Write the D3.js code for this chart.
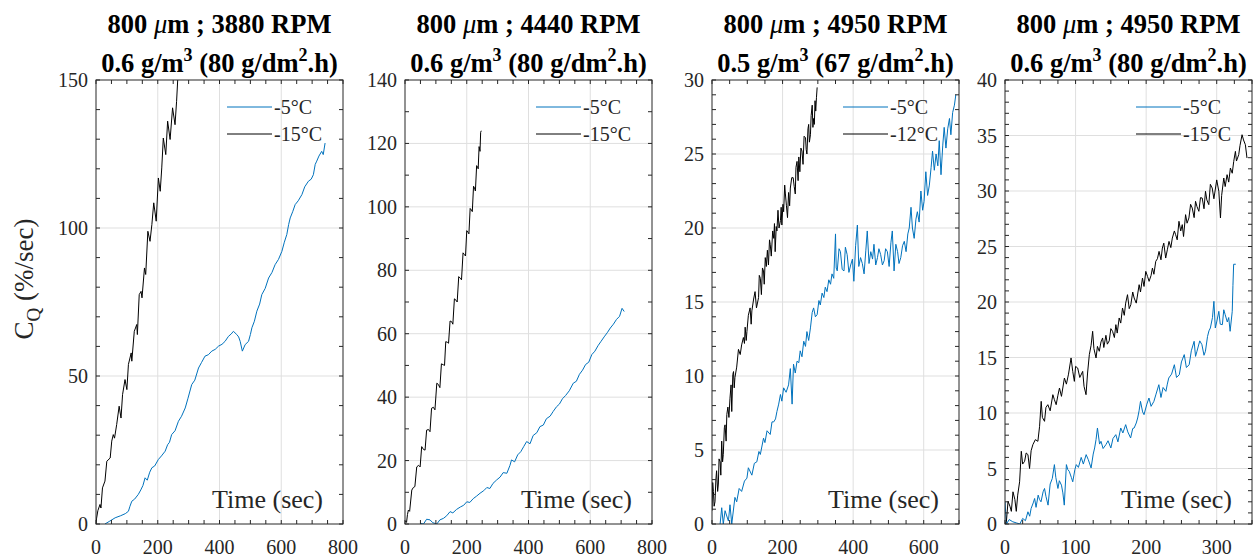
<!DOCTYPE html>
<html>
<head>
<meta charset="utf-8">
<script src="https://cdn.jsdelivr.net/npm/d3@7"></script>
<style>
  body { margin: 0; background: #fff; }
</style>
</head>
<body>
<script>
// panel titles
const rpm = ["3880", "4440", "4950", "4950"];
const conc = ["0.6", "0.6", "0.5", "0.6"];
const flux = ["80", "80", "67", "80"];
const coldLabels = ["-15°C", "-15°C", "-12°C", "-15°C"];

// axis extents and ticks
const xMax = [800, 800, 700, 350];
const yMax = [150, 140, 30, 40];
const xStep = [200, 200, 200, 100];
const yStep = [50, 20, 5, 5];
const xMinorStep = [50, 50, 50, 25];
const yMinorStep = [10, 10, 1, 1];

// series: [time (sec), CQ (%/sec)]
const p1Warm = [[29,0],[45,1],[62,2.1],[80,2.8],[95,3.5],[105,4.3],[110,6],[116,7.7],[125,8.4],[137,10],[145,11.5],[152,13],[159,15.6],[166,14.8],[174,17.5],[181,19],[190,19.6],[202,21.8],[212,23],[224,24.6],[232,26.8],[238,27.6],[245,30.2],[256,31.5],[267,34.7],[277,36.4],[289,39.2],[298,42.5],[310,47.1],[320,48.6],[332,52.7],[342,54.6],[353,56.7],[364,57.2],[375,58.4],[386,59],[397,60.1],[408,60.7],[418,61.7],[429,63.4],[438,64.2],[445,65.1],[456,64],[462,63.2],[467,61.7],[474,58.4],[483,60.6],[494,61.7],[500,64],[505,66.3],[513,68.5],[521,71.9],[530,74.3],[537,77.5],[548,79.6],[559,83.1],[570,85],[580,87.6],[591,89.4],[602,92.1],[610,95.2],[618,97.8],[624,101.2],[629,103.4],[637,105.5],[645,107.9],[655,109.2],[667,111.3],[676,113.9],[688,115.8],[697,116.5],[704,118],[710,121.5],[715,122.6],[722,124.3],[731,125.9],[736,124.8],[742,128.7]];
const p1Cold = [[0,0],[2,2],[6,4.5],[13,6.6],[16,5.4],[21,12.2],[29,14.5],[35,21.2],[46,22.3],[51,28],[56,30.2],[60,29],[67,33.6],[75,39.8],[81,35.8],[86,43.7],[94,48.8],[100,45.4],[105,53.9],[114,57.8],[116,55],[124,65.1],[132,67.4],[134,64],[140,77.5],[146,78.6],[149,76.4],[157,86.5],[161,84.3],[168,98.9],[175,95.5],[181,101.2],[187,108.5],[195,102.3],[202,116.9],[208,112.4],[213,120.3],[218,130.4],[226,124.8],[232,136.1],[240,129.9],[248,140.6],[256,134.9],[261,142.8],[265,150.7],[268,155]];

const p2Warm = [[49,0.2],[60,0],[70,1.5],[81,1.3],[90,0.4],[103,0],[113,1.3],[125,1.8],[135,2.6],[146,3.9],[155,3.5],[167,4.6],[180,5.4],[190,5.9],[200,7],[210,6.8],[221,8],[232,8.8],[243,9.7],[255,10.5],[265,11.5],[275,11.2],[285,12.8],[297,13.9],[308,14.8],[318,16.2],[330,16],[340,18.5],[345,20.2],[355,19.6],[365,21.8],[375,22.8],[385,24.5],[394,26],[405,25.3],[415,27.9],[427,28.8],[437,30.7],[448,31.2],[458,33.2],[470,34],[480,35.5],[491,37],[500,37.8],[510,39.5],[520,40.5],[532,42],[545,44.4],[555,45],[565,47.2],[575,48.5],[585,50.3],[595,51],[605,53.4],[615,54.5],[625,56.2],[635,57.6],[645,59],[655,60.3],[665,61.8],[675,63],[685,64.5],[695,65.5],[703,68],[710,67]];
const p2Cold = [[0,1],[5,0.5],[8,3],[11,4.4],[15,4],[22,10.7],[27,11.5],[32,11.8],[38,18],[44,18.5],[49,18],[54,24.4],[60,23.5],[65,23.3],[70,29.6],[76,29.8],[81,29.1],[86,36.5],[92,36.8],[97,36],[103,44.4],[108,44],[113,43],[118,50.5],[124,50.2],[128,50],[132,57.5],[137,57.3],[141,57],[146,64],[151,63.8],[155,63],[160,71],[165,70.6],[169,70],[174,78],[179,77.5],[183,77],[188,85.5],[192,85],[196,84.5],[200,92.5],[204,92],[207,91.5],[211,99.5],[215,99],[218,98.5],[222,106.5],[225,106],[228,105],[232,113],[235,112.5],[237,112],[240,119],[243,117.5],[245,123.5],[247,124]];

const p3Warm = [[23,0],[27.5,1.1],[32,0],[37,0.9],[46.5,0.2],[51,1.3],[56,0],[65,1.8],[70,1.5],[77,2.4],[84,2.2],[92,2.9],[99,3.1],[103,3.8],[113,3.3],[120,4.1],[127,4.2],[133,4.9],[137,4.7],[146,5.8],[150,5.5],[156,6.3],[165,6.05],[170,6.9],[175,6.9],[180,7.1],[184,7.6],[189,8.1],[194,8.75],[198,8.3],[203,9.2],[210,8.9],[217,9.4],[222,10.5],[227,8.1],[231,10.8],[236,10.2],[241,11],[246,10.9],[250,11.7],[255,11.3],[260,12.35],[265,12],[269,13],[274,12.4],[279,13.25],[284,14.3],[288,14.6],[293,14],[298,14.15],[303,15.1],[307,14.8],[312,15.6],[317,15.3],[321,16],[326,15.7],[331,16.5],[336,16.2],[340,16.9],[345,16.6],[350,19.6],[352,17.3],[355,17.1],[360,18.6],[364,18.4],[369,17.2],[374,17.1],[378,18.7],[383,18.2],[388,17],[393,17.5],[398,17.9],[402,16.4],[407,18.8],[412,20.2],[416,17.4],[421,18],[426,17.6],[431,16.9],[436,18.5],[440,19.8],[445,17.6],[450,18.4],[455,17.9],[459,18.9],[464,17.5],[469,18],[473,18.6],[478,18.2],[483,17.5],[488,17.8],[492,18.6],[497,18.4],[502,17.4],[507,19],[511,19.8],[516,17.1],[521,18.9],[526,18.4],[530,17.6],[535,18],[540,18.8],[545,19.1],[550,18.4],[555,19.6],[559,20],[564,21.4],[568,20],[573,19.3],[578,20.6],[582,21.1],[587,20.4],[592,22.5],[597,21.2],[601,21.8],[606,23.8],[611,22.2],[616,22.9],[621,24.1],[625,25.2],[630,23.9],[635,25],[640,24.2],[644,25.9],[649,23.6],[654,25.6],[658,26.8],[663,25.4],[668,26.7],[673,27.4],[677,26.3],[682,27.8],[687,28.3],[691,29]];
const p3Cold = [[0,0.9],[2,2.8],[4,2.2],[6,1.2],[8.5,1.5],[11,3],[13,3.6],[16,2.2],[18,2.7],[20,4.4],[23,4.2],[25,3.3],[27.5,5.6],[30,4.2],[32,4.7],[35,6.5],[37,6.7],[40,5.6],[42,7.4],[45,7.9],[48,7.2],[51,8.5],[54,9.4],[56,7.6],[59,10.1],[61,10.3],[63,9.2],[65,9.9],[70,10.6],[75,11.8],[80,11.45],[84,12.1],[89,12.6],[92,12.2],[94,13.3],[97,12.4],[99,13],[103,14.1],[108,14.6],[111,13.5],[113,14.4],[118,15.2],[122,15.7],[126,14.6],[132,15.3],[134,16.8],[137,16.6],[140,15.5],[143,17.3],[146,17.1],[148,16.2],[151,18],[154,17.4],[157,18.5],[160,17.5],[163,19.2],[165,18.9],[168,18.1],[172,19.8],[175,19.3],[177,20.3],[179,18.4],[182,20.1],[184,19.8],[187,21.2],[190,20],[194,20.5],[196,21.4],[198,20.2],[201,21.6],[203,21.1],[206,22.9],[208,22.3],[211,21.5],[214,20.7],[217,22.4],[220,21.5],[222,22.7],[226,23.4],[230,23.4],[233,22.8],[236,22.3],[238,24.1],[241,24.5],[244,23.2],[246,24.8],[249,23.8],[252,25.4],[255,25.2],[258,24.3],[261,26.2],[265,26.1],[267,25.3],[269,25],[272,26.7],[274,27],[276,25.8],[279,26.3],[281,27.6],[284,28.3],[286,26.8],[288,27.4],[290,27],[292,28.6],[294,27.9],[296,28.8],[298,29.5]];

const p4Warm = [[0,2],[2,0],[6,0.4],[11,0.2],[16,0.1],[21,0],[25,0.5],[29,0.3],[32.5,1.1],[35,0.7],[37,1.4],[40,1.9],[42,2.3],[44,1.5],[47,2.6],[49,2.2],[51,2],[54,2.9],[56,3.2],[58,2.5],[61,1.7],[64,3.6],[67,4.1],[70,5.35],[72,4.2],[75,3.2],[77,3.9],[80,3.5],[82,2.8],[84,1.7],[87,5.35],[89,4.9],[91,4.75],[94,4.2],[96,3.8],[99,4.9],[101,5.35],[104,5.1],[108,6],[111,5.4],[115,6.25],[118,5.8],[122,5.05],[125,6.3],[127,6.85],[129,7.6],[131,8.65],[134,7.2],[136,7.45],[139,6.8],[143,7.15],[146,7.5],[150,6.85],[153,7.7],[157,8.05],[160,7.4],[164,8.65],[167,8.2],[171,8.95],[174,8.3],[178,7.75],[181,8.6],[183,8.65],[186,9.1],[188,9.55],[190,10.2],[192,11.05],[195,10.1],[197,9.85],[201,10.8],[204,11.35],[207,10.6],[211,11.05],[214,11.7],[218,12.55],[221,11.4],[224,12.3],[228,11.95],[230,12.6],[232,13.15],[236,13.5],[240,14.35],[243,13.2],[247,13.45],[250,14.6],[254,15.26],[257,14.1],[261,14.35],[264,15.6],[268,16.46],[270,15.1],[272,15.56],[276,16.5],[279,16.16],[282,15.2],[284,15.56],[287,16.9],[289,17.4],[291,17.66],[294,18.6],[296,20.06],[298,17.66],[300,18.2],[303,19.16],[305,18],[308,17.96],[310,19.3],[312,18.86],[315,18.2],[317,18.6],[319,17.36],[322,19.16],[323,21.5],[324,23.4],[327,23.4]];
const p4Cold = [[0,0],[2,0.24],[4.3,2.04],[7,1.6],[9,1.14],[11.3,2.9],[14,2.2],[16,1.14],[18,2.6],[20.7,3.8],[23.1,6.55],[25,5.4],[27.8,5.65],[30,6.4],[32.5,6.25],[34.8,5],[37,6.6],[39.5,7.15],[43,7.6],[46.6,7.45],[49,8.8],[51.3,11.05],[53,9.6],[56,9.25],[58,10.5],[60.7,10.75],[64,10.2],[67.8,11.65],[70,11.2],[72.5,10.75],[75,11.6],[77.2,12.25],[80,11.5],[84.2,13.15],[87,12.6],[90,13.5],[93.6,14.96],[96,13.75],[98.3,12.85],[100,14.2],[103,14.05],[106,13.2],[110.1,13.75],[112,12.4],[114.8,11.65],[117,13.6],[119.5,15.26],[122,16.1],[124.2,17.36],[126,15.8],[129,14.96],[131,16],[133.6,15.56],[136,16.4],[138.3,16.76],[140,15.9],[143,17],[145,16.2],[147.7,16.5],[150,17.6],[152.4,17.36],[155,16.8],[157.1,17.96],[159,17.2],[161.8,18.56],[164,18.1],[166.5,19.46],[169,18.8],[171,19.9],[173.6,20.66],[176,19.4],[178.3,19.76],[181,20.9],[183,20.36],[186,19.9],[190.1,21.56],[192,20.9],[194.8,22.16],[197,21.4],[199.5,22.76],[202,22.3],[204.2,21.86],[207,22.4],[208.9,23.06],[211,22.5],[213.6,23.66],[216,23.9],[218.3,24.56],[221,23.8],[223,24.86],[225,25.3],[227.7,23.96],[230,24.7],[232.4,25.46],[235,24.9],[237.1,25.76],[240,26.4],[241.8,26.06],[244,25.6],[246.5,27.27],[249,26.4],[251.2,26.97],[253,25.9],[255.9,27.87],[258,27.1],[260.6,27.57],[263,28.8],[265.3,28.47],[268,27.6],[270,29.07],[272,28.6],[274.7,28.17],[277,29.4],[279.4,29.37],[282,28.4],[284.1,29.97],[286,29.2],[288.8,28.77],[291,30.6],[293.6,30.27],[296,29.3],[298.3,30.27],[300,31],[303,29.97],[305.3,27.57],[307,29.6],[310,31.17],[312,30.4],[314.7,31.47],[317,30.8],[319.4,32.07],[322,31.6],[324.1,32.67],[326.5,33.57],[328,32.7],[331.2,33.27],[333,34.1],[335.9,35.07],[338,34.6],[340.6,34.17],[342.9,32.97]];

const warmSeries = [p1Warm, p2Warm, p3Warm, p4Warm];
const coldSeries = [p1Cold, p2Cold, p3Cold, p4Cold];

const W = 1255;
const H = 558;
const panelLeft = [96, 405, 712, 1005];
const panelW = 247;
const plotTop = 80;
const plotBottom = 524;

const blue = "#0072bd";
const axisColor = "#262626";
const gridColor = "#dfdfdf";
const serif = "'Liberation Serif', 'Times New Roman', Times, serif";

const svg = d3.select("body").append("svg")
  .attr("width", W)
  .attr("height", H)
  .attr("font-family", serif)
  .style("font-family", serif);
svg.append("rect").attr("width", W).attr("height", H).attr("fill", "#fff");

function range(start, stop, step) {
  return d3.range(0, Math.floor((stop - start) / step + 1e-9) + 1).map(function (i) {
    return +(start + i * step).toFixed(4);
  });
}

for (let p = 0; p < 4; p++) {
  const left = panelLeft[p];
  const right = left + panelW;
  const xScale = d3.scaleLinear().domain([0, xMax[p]]).range([left, right]);
  const yScale = d3.scaleLinear().domain([0, yMax[p]]).range([plotBottom, plotTop]);
  const g = svg.append("g");

  const xMajor = range(0, xMax[p], xStep[p]);
  const yMajor = range(0, yMax[p], yStep[p]);
  const xMinor = range(0, xMax[p], xMinorStep[p]);
  const yMinor = range(0, yMax[p], yMinorStep[p]);

  // grid
  g.selectAll(".gx")
    .data(xMajor.filter(function (d) { return d > 0 && d < xMax[p]; }))
    .enter()
    .append("line")
    .attr("x1", function (d) { return xScale(d); })
    .attr("x2", function (d) { return xScale(d); })
    .attr("y1", plotTop)
    .attr("y2", plotBottom)
    .attr("stroke", gridColor)
    .attr("stroke-width", 1);
  g.selectAll(".gy")
    .data(yMajor.filter(function (d) { return d > 0 && d < yMax[p]; }))
    .enter()
    .append("line")
    .attr("y1", function (d) { return yScale(d); })
    .attr("y2", function (d) { return yScale(d); })
    .attr("x1", left)
    .attr("x2", right)
    .attr("stroke", gridColor)
    .attr("stroke-width", 1);

  // data
  const clipId = "clip" + p;
  svg.append("clipPath")
    .attr("id", clipId)
    .append("rect")
    .attr("x", left)
    .attr("y", plotTop)
    .attr("width", panelW)
    .attr("height", plotBottom - plotTop);

  const line = d3.line()
    .x(function (d) { return xScale(d[0]); })
    .y(function (d) { return yScale(d[1]); });

  g.append("path")
    .datum(warmSeries[p])
    .attr("clip-path", "url(#" + clipId + ")")
    .attr("d", line)
    .attr("fill", "none")
    .attr("stroke", blue)
    .attr("stroke-width", 1);
  g.append("path")
    .datum(coldSeries[p])
    .attr("clip-path", "url(#" + clipId + ")")
    .attr("d", line)
    .attr("fill", "none")
    .attr("stroke", "#000")
    .attr("stroke-width", 1);

  // ticks on all four sides, pointing inward
  const tl = 4;
  g.selectAll(".tx")
    .data(xMinor)
    .enter()
    .append("path")
    .attr("d", function (d) {
      const x = xScale(d);
      return "M" + x + "," + plotBottom + "v" + -tl + "M" + x + "," + plotTop + "v" + tl;
    })
    .attr("stroke", axisColor);
  g.selectAll(".ty")
    .data(yMinor)
    .enter()
    .append("path")
    .attr("d", function (d) {
      const y = yScale(d);
      return "M" + left + "," + y + "h" + tl + "M" + right + "," + y + "h" + -tl;
    })
    .attr("stroke", axisColor);

  g.append("rect")
    .attr("x", left)
    .attr("y", plotTop)
    .attr("width", panelW)
    .attr("height", plotBottom - plotTop)
    .attr("fill", "none")
    .attr("stroke", axisColor)
    .attr("stroke-width", 1);

  // tick labels
  g.selectAll(".lx")
    .data(xMajor)
    .enter()
    .append("text")
    .attr("x", function (d) { return xScale(d); })
    .attr("y", 554)
    .attr("text-anchor", "middle")
    .attr("font-size", "20px")
    .attr("fill", axisColor)
    .text(function (d) { return d; });
  g.selectAll(".ly")
    .data(yMajor)
    .enter()
    .append("text")
    .attr("x", left - 8)
    .attr("y", function (d) { return yScale(d) + 7; })
    .attr("text-anchor", "end")
    .attr("font-size", "20px")
    .attr("fill", axisColor)
    .text(function (d) { return d; });

  // x label inside the plot
  g.append("text")
    .attr("x", right - 20)
    .attr("y", plotBottom - 16)
    .attr("text-anchor", "end")
    .attr("font-size", "26px")
    .attr("fill", axisColor)
    .text("Time (sec)");

  // legend
  const legendNames = ["-5°C", coldLabels[p]];
  const legendColors = [blue, "#000"];
  for (let i = 0; i < 2; i++) {
    const ly = plotTop + 27 + i * 27;
    g.append("line")
      .attr("x1", right - 116)
      .attr("x2", right - 71)
      .attr("y1", ly)
      .attr("y2", ly)
      .attr("stroke", legendColors[i])
      .attr("stroke-width", 1);
    g.append("text")
      .attr("x", right - 69)
      .attr("y", ly + 7)
      .attr("font-size", "20px")
      .attr("fill", axisColor)
      .text(legendNames[i]);
  }

  // title
  const cx = (left + right) / 2;
  const t1 = g.append("text")
    .attr("x", cx)
    .attr("y", 33)
    .attr("text-anchor", "middle")
    .attr("font-size", "26.5px")
    .attr("font-weight", "bold");
  t1.append("tspan").text("800 ");
  t1.append("tspan").attr("font-style", "italic").attr("font-weight", "normal").text("μ");
  t1.append("tspan").text("m ; " + rpm[p] + " RPM");

  const t2 = g.append("text")
    .attr("x", cx)
    .attr("y", 72)
    .attr("text-anchor", "middle")
    .attr("font-size", "26.5px")
    .attr("font-weight", "bold");
  t2.append("tspan").text(conc[p] + " g/m");
  t2.append("tspan").attr("dy", -11).attr("font-size", "18px").text("3");
  t2.append("tspan").attr("dy", 11).text(" (" + flux[p] + " g/dm");
  t2.append("tspan").attr("dy", -11).attr("font-size", "18px").text("2");
  t2.append("tspan").attr("dy", 11).text(".h)");
}

// y axis label
const yl = svg.append("text")
  .attr("transform", "translate(33,279) rotate(-90)")
  .attr("text-anchor", "middle")
  .attr("font-size", "27px")
  .attr("fill", axisColor);
yl.append("tspan").text("C");
yl.append("tspan").attr("dy", 7).attr("font-size", "19px").text("Q");
yl.append("tspan").attr("dy", -7).text(" (%/sec)");
</script>
</body>
</html>
